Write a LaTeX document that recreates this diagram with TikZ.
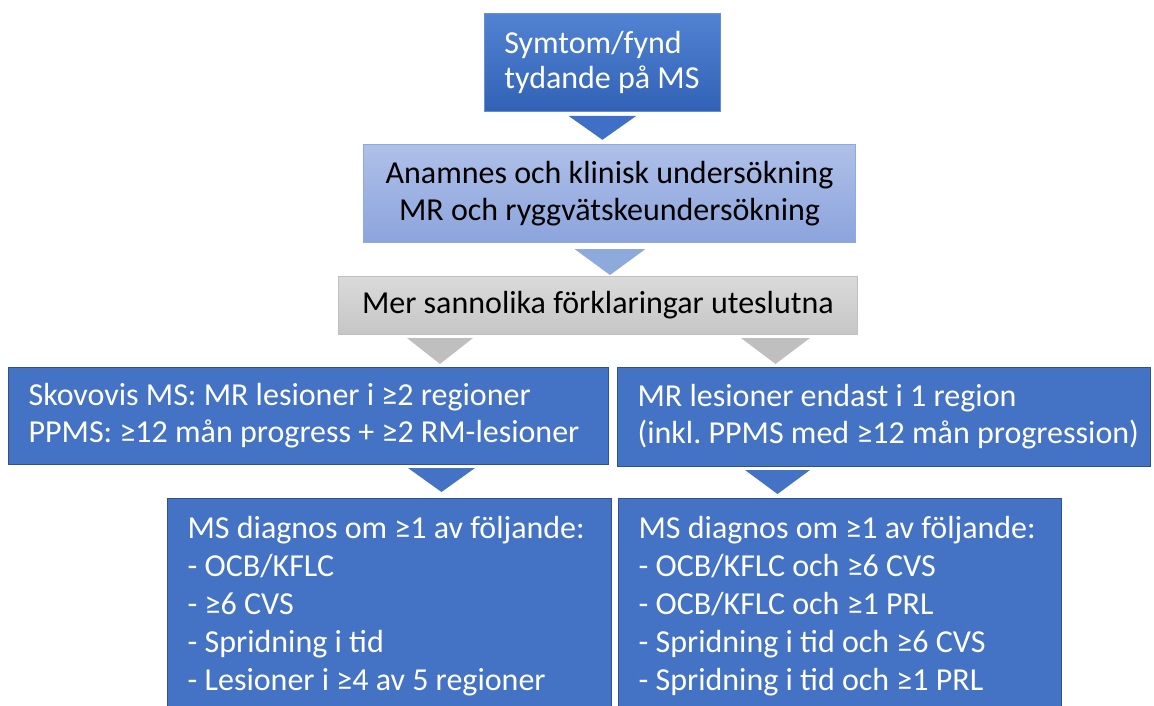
\documentclass[tikz,border=0pt]{standalone}
\usepackage{fontspec}
\setmainfont{Carlito}
\frenchspacing
\usetikzlibrary{positioning}
\definecolor{mblue}{HTML}{4472C4}
\definecolor{mborder}{HTML}{2F528F}
\definecolor{gtop}{HTML}{5282D2}
\definecolor{gbot}{HTML}{3262B6}
\definecolor{ltop}{HTML}{AFC0E8}
\definecolor{lbot}{HTML}{8CA4DD}
\definecolor{lborder}{HTML}{8FAADC}
\definecolor{grtop}{HTML}{DADADA}
\definecolor{grbot}{HTML}{C6C6C6}
\definecolor{grborder}{HTML}{BFBFBF}
\definecolor{tri1}{HTML}{3F6FC6}
\definecolor{tri2}{HTML}{8EA9DB}
\definecolor{tri3}{HTML}{BFBFBF}
\tikzset{
  x=1pt, y=1pt,
  txt/.style={font=\fontsize{32}{37}\selectfont},
  box/.style={rectangle, anchor=north west, inner sep=0pt, txt},
  bluebox/.style={box, fill=mblue, draw=mborder, line width=1.2pt, text=white, align=flush left, inner xsep=20pt},
  listtxt/.style={font=\fontsize{32}{38}\selectfont},
}
\begin{document}
\begin{tikzpicture}
\useasboundingbox (0,0) rectangle (1154,-706);
\clip (0,0) rectangle (1154,-706);
% Box 1
\node[box, minimum width=236, minimum height=98, top color=gtop, bottom color=gbot, draw=mblue!80, line width=0.8pt, text=white, align=flush left, text width=196, inner xsep=20pt, font=\fontsize{32}{35}\selectfont] (b1) at (484,-13) {Symtom/fynd\\tydande på MS};
% Box 2
\node[box, minimum width=492, minimum height=98, top color=ltop, bottom color=lbot, draw=lborder, line width=1pt, text=black, align=flush center] (b2) at (363,-144) {Anamnes och klinisk undersökning\\MR och ryggvätskeundersökning};
% Box 3
\node[box, minimum width=519, minimum height=58, top color=grtop, bottom color=grbot, draw=grborder, line width=0.8pt, text=black, align=flush center] (b3) at (338,-276) {Mer sannolika förklaringar uteslutna};
% Box 4
\node[bluebox, minimum width=600, minimum height=97, text width=560] (b4) at (8,-367) {Skovovis MS: MR lesioner i ≥2 regioner\\PPMS: ≥12 mån progress + ≥2 RM-lesioner};
% Box 5
\node[bluebox, minimum width=533, minimum height=99, text width=493] (b5) at (617,-367) {MR lesioner endast i 1 region\\\mbox{(inkl. PPMS med ≥12 mån progression)}};
% Box 6
\node[bluebox, minimum width=444, minimum height=216, text width=404, listtxt] (b6) at (167,-498) {MS diagnos om ≥1 av följande:\\- OCB/KFLC\\- ≥6 CVS\\- Spridning i tid\\- Lesioner i ≥4 av 5 regioner};
% Box 7
\node[bluebox, minimum width=443, minimum height=216, text width=403, listtxt] (b7) at (618,-498) {MS diagnos om ≥1 av följande:\\- OCB/KFLC och ≥6 CVS\\- OCB/KFLC och ≥1 PRL\\- Spridning i tid och ≥6 CVS\\- Spridning i tid och ≥1 PRL};
% Triangles (block arrows between boxes)
\fill[tri1] ([xshift=-34pt,yshift=-4pt]b1.south) -- ([xshift=34pt,yshift=-4pt]b1.south) -- ([yshift=-28pt]b1.south) -- cycle;
\fill[tri2] ([xshift=-35pt,yshift=-6pt]b2.south) -- ([xshift=36pt,yshift=-6pt]b2.south) -- ([xshift=0.5pt,yshift=-32pt]b2.south) -- cycle;
\fill[tri3] (407,-338) -- (473,-338) -- (440,-364) -- cycle;
\fill[tri3] (741,-338) -- (810,-338) -- (775.5,-364) -- cycle;
\fill[mblue] (408,-468) -- (475,-468) -- (441.5,-492) -- cycle;
\fill[mblue] (745,-470) -- (810,-470) -- (777.5,-494) -- cycle;
\end{tikzpicture}
\end{document}
